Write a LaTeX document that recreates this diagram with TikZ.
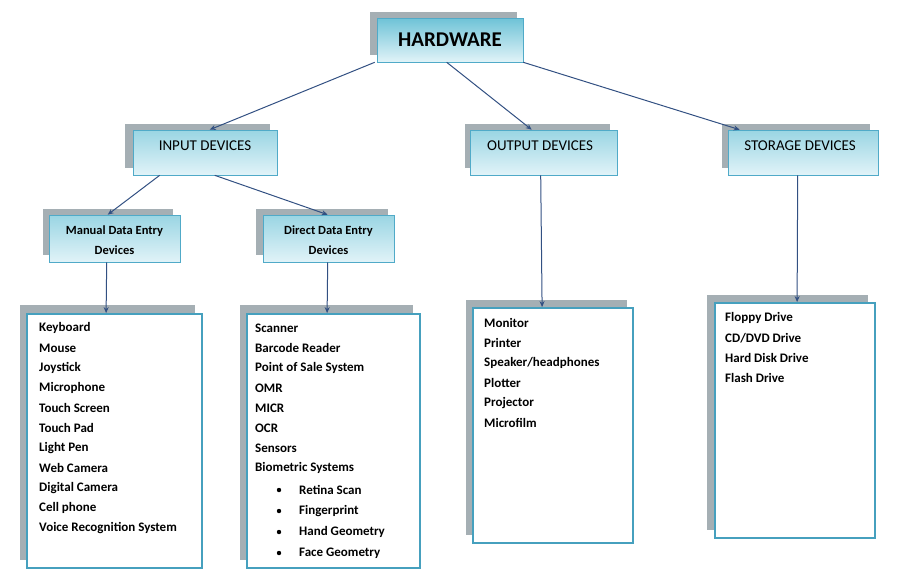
\documentclass[tikz,border=0pt]{standalone}
\usepackage{fontspec}
\setmainfont{Carlito}
\usetikzlibrary{calc,arrows.meta}
\definecolor{cyD}{RGB}{110,195,215}
\definecolor{cyL}{RGB}{225,243,248}
\definecolor{cyB}{RGB}{80,170,200}
\definecolor{shd}{RGB}{165,175,180}
\definecolor{lst}{RGB}{70,160,190}
\definecolor{ln}{RGB}{50,80,130}
\tikzset{
 hd/.style={draw=cyB,line width=0.6pt,top color=cyD,bottom color=cyL,inner sep=0pt,align=center,font=\bfseries},
 lb/.style={draw=lst,line width=1.8pt,fill=white},
 ar/.style={draw=ln,line width=1pt,-{Stealth[length=6pt,width=5pt]}},
 it/.style={anchor=west,font=\bfseries\fontsize{13}{15}\selectfont,inner sep=0pt},
 tx/.style={inner sep=0pt,align=center}
}
\begin{document}
\begin{tikzpicture}[x=1pt,y=-1pt]
\useasboundingbox (0,0) rectangle (918,579);
% shadows
\fill[shd] (370,12) rectangle (517,55);
\fill[shd] (125,124) rectangle (270,168);
\fill[shd] (465,124) rectangle (610,168);
\fill[shd] (722,124) rectangle (870,168);
\fill[shd] (43,209) rectangle (173,255);
\fill[shd] (256,209) rectangle (388,255);
\fill[shd] (20,305) rectangle (195,560);
\fill[shd] (240,305) rectangle (413,560);
\fill[shd] (466,300) rectangle (627,535);
\fill[shd] (707,295) rectangle (868,530);
% header boxes
\node[hd,minimum width=146pt,minimum height=44pt] (hw) at (450,40) {};
\node[tx,font=\bfseries\fontsize{21}{24}\selectfont] (hwt) at (450,40) {HARDWARE};
\node[hd,top color=cyD!70,minimum width=144pt,minimum height=45pt] (in) at (205,152.5) {};
\node[tx,font=\fontsize{15}{18}\selectfont] (int) at (205,146) {INPUT DEVICES};
\node[hd,top color=cyD!70,minimum width=147pt,minimum height=45pt] (out) at (543.5,152.5) {};
\node[tx,font=\fontsize{15}{18}\selectfont] (outt) at (540,146) {OUTPUT DEVICES};
\node[hd,top color=cyD!70,minimum width=150pt,minimum height=45pt] (st) at (803,152.5) {};
\node[tx,font=\fontsize{15}{18}\selectfont] (stt) at (800,146) {STORAGE DEVICES};
\node[hd,top color=cyD!70,minimum width=131pt,minimum height=47pt] (man) at (114.5,238.5) {};
\node[tx,font=\bfseries\fontsize{12.5}{20}\selectfont] (mant) at (114.5,240) {Manual Data Entry\\Devices};
\node[hd,top color=cyD!70,minimum width=131pt,minimum height=47pt] (dir) at (328.5,238.5) {};
\node[tx,font=\bfseries\fontsize{12.5}{20}\selectfont] (dirt) at (328.5,240) {Direct Data Entry\\Devices};
% list boxes
\node[lb,minimum width=175pt,minimum height=254pt,inner sep=0pt] (l1) at (114.5,441) {};
\node[lb,minimum width=173pt,minimum height=254pt,inner sep=0pt] (l2) at (333.5,441) {};
\node[lb,minimum width=160pt,minimum height=235pt,inner sep=0pt] (l3) at (553,425.5) {};
\node[lb,minimum width=160pt,minimum height=235pt,inner sep=0pt] (l4) at (795,420.5) {};
% texts
\foreach \t [count=\i from 0] in {Keyboard,Mouse,Joystick,Microphone,Touch Screen,Touch Pad,Light Pen,Web Camera,Digital Camera,Cell phone,Voice Recognition System}
  \node[it] at (39,328+20*\i) {\t};
\foreach \t [count=\i from 0] in {Scanner,Barcode Reader,Point of Sale System,OMR,MICR,OCR,Sensors,Biometric Systems}
  \node[it] at (255,328+20*\i) {\t};
\foreach \t [count=\i from 0] in {Retina Scan,Fingerprint,Hand Geometry,Face Geometry}
  {\node[it] at (299,490+21*\i) {\t};
   \fill (279,490+21*\i) circle (2.2pt);}
\foreach \t [count=\i from 0] in {Monitor,Printer,Speaker/headphones,Plotter,Projector,Microfilm}
  \node[it] at (484,323+20*\i) {\t};
\foreach \t [count=\i from 0] in {Floppy Drive,CD/DVD  Drive,Hard Disk Drive,Flash Drive}
  \node[it] at (725,318+20*\i) {\t};
% arrows
\draw[ar] ($(hw.south west)+(-2,0)$) -- ($(in.north west)+(77,0)$);
\draw[ar] ($(hw.south west)+(70,0)$) -- ($(out.north west)+(62,0)$);
\draw[ar] (hw.south east) -- ($(st.north west)+(12,0)$);
\draw[ar] ($(in.south west)+(27,0)$) -- ($(man.north west)+(59,0)$);
\draw[ar] ($(in.south west)+(82,0)$) -- ($(dir.north west)+(65,0)$);
\draw[ar] ($(man.south west)+(58,0)$) -- ($(l1.north west)+(80,0)$);
\draw[ar] ($(dir.south west)+(65,0)$) -- ($(l2.north west)+(81,0)$);
\draw[ar] ($(out.south west)+(71,0)$) -- ($(l3.north west)+(70,0)$);
\draw[ar] ($(st.south west)+(70,0)$) -- ($(l4.north west)+(83,0)$);
\end{tikzpicture}
\end{document}
